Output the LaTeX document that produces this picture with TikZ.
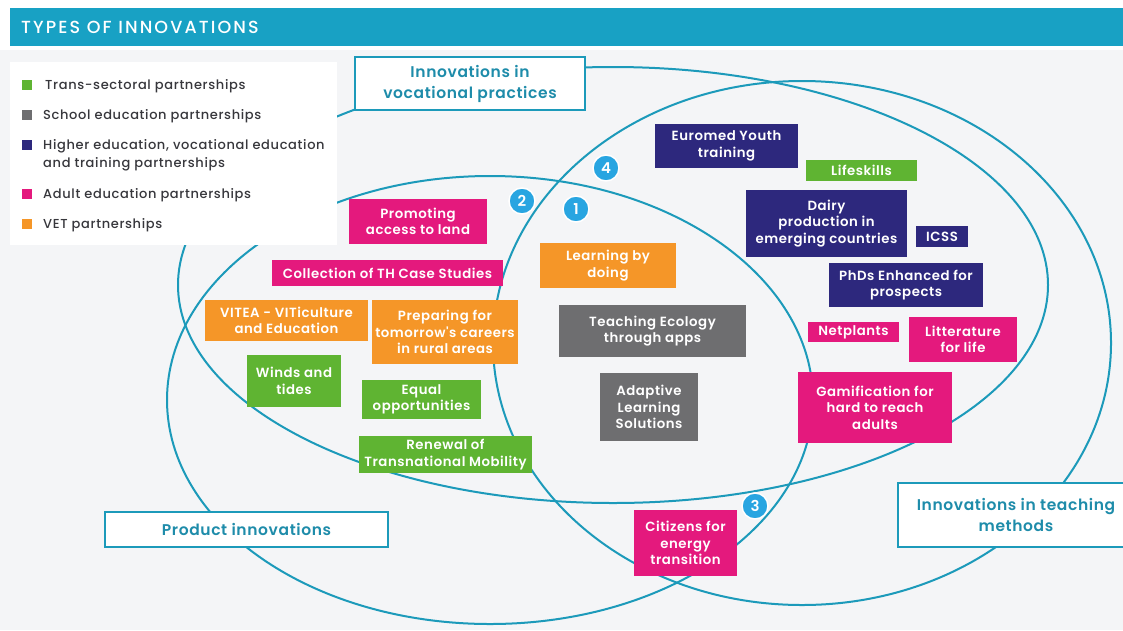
\documentclass[tikz,border=0pt]{standalone}
\usepackage{fontspec}
\setmainfont{Poppins}
\newfontfamily\boxfont{Poppins SemiBold}[LetterSpace=4]
\newfontfamily\legfont{Poppins Medium}[LetterSpace=5]
\newfontfamily\headfont{Poppins Medium}[LetterSpace=12]
\definecolor{linec}{RGB}{28,154,186}
\definecolor{headc}{RGB}{24,161,196}
\definecolor{lblc}{RGB}{30,140,170}
\definecolor{bgc}{RGB}{244,245,247}
\definecolor{legc}{RGB}{55,55,60}
\definecolor{cgreen}{RGB}{95,180,50}
\definecolor{cgrey}{RGB}{110,110,112}
\definecolor{cnavy}{RGB}{45,40,125}
\definecolor{cpink}{RGB}{228,25,125}
\definecolor{corange}{RGB}{245,150,40}
\definecolor{numc}{RGB}{40,165,225}
\begin{document}
\begin{tikzpicture}[x=1pt,y=-1pt,
  pbox/.style={rectangle, inner sep=0pt, align=center, text=white, font=\boxfont\fontsize{13.3}{16.5}\selectfont},
  lbl/.style={rectangle, draw=linec, line width=2pt, fill=white, text=lblc, align=center, inner sep=0pt, font=\boxfont\fontsize{15.5}{21}\selectfont},
  num/.style={circle, fill=numc, draw=white, line width=1.5pt, minimum size=26pt, inner sep=0pt, text=white, font=\boxfont\fontsize{15}{15}\selectfont},
  ell/.style={draw=linec, line width=2pt},
  lsq/.style={rectangle, minimum size=10pt, inner sep=0pt},
  ltxt/.style={anchor=west, text=legc, align=left, inner sep=0pt, font=\legfont\fontsize{13}{18}\selectfont}]
\useasboundingbox (0,0) rectangle (1123,630);
% background
\fill[white] (0,0) rectangle (1123,630);
\fill[bgc] (0,50) rectangle (1123,630);
% header
\fill[headc] (10,8) rectangle (1123,46);
\node[anchor=west, text=white, inner sep=0pt, font=\headfont\fontsize{17.5}{17.5}\selectfont] (title) at (21,27) {TYPES OF INNOVATIONS};
% ellipses
\draw[ell] (490,400) ellipse [x radius=323pt, y radius=224pt];
\draw[ell] (613,285) ellipse [x radius=435pt, y radius=218pt];
\draw[ell] (802,343) ellipse [x radius=309pt, y radius=262pt];
% legend
\fill[white] (10,62) rectangle (337,245);
\node[lsq, fill=cgreen] (sq1) at (27,85) {};
\node[ltxt] (lg1) at (45,86) {Trans-sectoral partnerships};
\node[lsq, fill=cgrey] (sq2) at (27,115) {};
\node[ltxt] (lg2) at (43,116) {School education partnerships};
\node[lsq, fill=cnavy] (sq3) at (27,145) {};
\node[ltxt] (lg3) at (43,155) {Higher education, vocational education\\and training partnerships};
\node[lsq, fill=cpink] (sq4) at (27,194) {};
\node[ltxt] (lg4) at (43,195) {Adult education partnerships};
\node[lsq, fill=corange] (sq5) at (27,224) {};
\node[ltxt] (lg5) at (43,225) {VET partnerships};
% label boxes
\node[lbl, minimum width=230pt, minimum height=53pt] (voc) at (470,83.5) {Innovations in\\vocational practices};
\node[lbl, minimum width=283pt, minimum height=35pt] (prod) at (246.5,529.5) {Product innovations};
\node[lbl, minimum width=236pt, minimum height=64pt] (teach) at (1016,515) {Innovations in teaching\\methods};
% coloured boxes
\node[pbox, fill=cnavy, minimum width=143pt, minimum height=44pt] (euromed) at (726.5,146) {Euromed Youth\\training};
\node[pbox, fill=cgreen, minimum width=111pt, minimum height=21pt] (lifeskills) at (861.5,170.5) {Lifeskills};
\node[pbox, fill=cnavy, minimum width=161pt, minimum height=67pt] (dairy) at (826.5,223.5) {Dairy\\production in\\emerging countries};
\node[pbox, fill=cnavy, minimum width=52pt, minimum height=21pt] (icss) at (942,236.5) {ICSS};
\node[pbox, fill=cnavy, minimum width=154pt, minimum height=44pt] (phds) at (906,285) {PhDs Enhanced for\\prospects};
\node[pbox, fill=cpink, minimum width=91pt, minimum height=20pt] (netplants) at (853.5,332) {Netplants};
\node[pbox, fill=cpink, minimum width=108pt, minimum height=45pt] (litt) at (963,339.5) {Litterature\\for life};
\node[pbox, fill=cpink, minimum width=154pt, minimum height=71pt] (gamif) at (875,407.5) {Gamification for\\hard to reach\\adults};
\node[pbox, fill=corange, minimum width=136pt, minimum height=45pt] (learning) at (608,265.5) {Learning by\\doing};
\node[pbox, fill=cgrey, minimum width=187pt, minimum height=52pt] (teco) at (652.5,331) {Teaching Ecology\\through apps};
\node[pbox, fill=cgrey, minimum width=98pt, minimum height=68pt] (adaptive) at (649,407) {Adaptive\\Learning\\Solutions};
\node[pbox, fill=cpink, minimum width=138pt, minimum height=45pt] (promoting) at (418,221.5) {Promoting\\access to land};
\node[pbox, fill=cpink, minimum width=231pt, minimum height=26pt] (collection) at (387.5,273) {Collection of TH Case Studies};
\node[pbox, fill=corange, minimum width=163pt, minimum height=41pt] (vitea) at (286.5,320.5) {VITEA - VITiculture\\and Education};
\node[pbox, fill=corange, minimum width=146pt, minimum height=64pt] (preparing) at (445,332) {Preparing for\\tomorrow's careers\\in rural areas};
\node[pbox, fill=cgreen, minimum width=94pt, minimum height=52pt] (winds) at (294,381) {Winds and\\tides};
\node[pbox, fill=cgreen, minimum width=119pt, minimum height=39pt] (equal) at (421.5,399.5) {Equal\\opportunities};
\node[pbox, fill=cgreen, minimum width=173pt, minimum height=37pt] (renewal) at (445.5,454.5) {Renewal of\\Transnational Mobility};
\node[pbox, fill=cpink, minimum width=103pt, minimum height=66pt] (citizens) at (685.5,543) {Citizens for\\energy\\transition};
% numbers
\node[num] (n1) at (576,209) {1};
\node[num] (n2) at (522,201) {2};
\node[num] (n3) at (755,506) {3};
\node[num] (n4) at (606,168) {4};
\end{tikzpicture}
\end{document}
